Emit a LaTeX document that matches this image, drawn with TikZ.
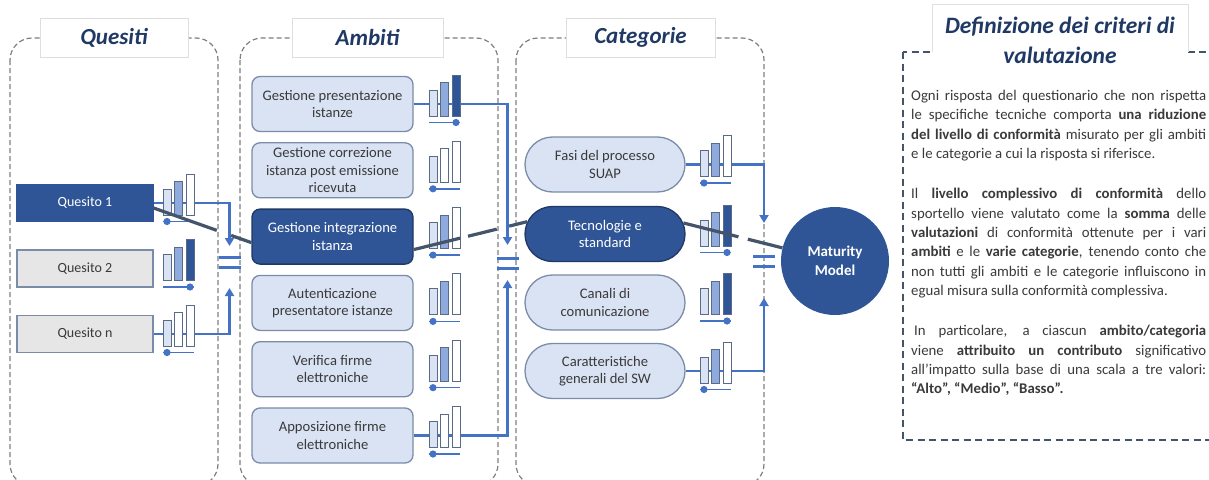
\documentclass[tikz,border=0pt]{standalone}
\usepackage{fontspec}
\setmainfont{Carlito}
\usetikzlibrary{arrows.meta,shapes.misc,calc}
\definecolor{lb}{HTML}{DAE3F3}
\definecolor{mb}{HTML}{8FAADC}
\definecolor{db}{HTML}{2F5597}
\definecolor{navy}{HTML}{1F3864}
\definecolor{linkblue}{HTML}{4472C4}
\definecolor{slate}{HTML}{44546A}
\definecolor{txt}{HTML}{3A3A3A}
\definecolor{qgrey}{HTML}{E7E6E6}
\definecolor{bord}{HTML}{7A8CA8}
\definecolor{panelgrey}{HTML}{7F7F7F}
\definecolor{barborder}{HTML}{5A6B88}
\tikzset{
  panel/.style={draw=panelgrey, line width=1.2pt, dash pattern=on 5pt off 3pt, rounded corners=22pt},
  rpanel/.style={draw=slate, line width=1.5pt, dash pattern=on 7pt off 4.5pt},
  titlebox/.style={draw=black!13, fill=white, line width=0.8pt, minimum height=39pt, inner sep=0, font=\fontsize{23}{27}\selectfont\bfseries\itshape, text=navy},
  qbox/.style={rectangle, minimum width=136pt, minimum height=37pt, draw=bord, line width=1.2pt, fill=qgrey, text=txt, inner sep=0, font=\fontsize{14}{16}\selectfont},
  qdark/.style={qbox, fill=db, draw=db, text=white},
  abox/.style={rectangle, rounded corners=8pt, minimum width=161pt, minimum height=55pt, draw=bord, line width=1.3pt, fill=lb, text=txt, align=center, inner sep=0, font=\fontsize{14.6}{17.5}\selectfont},
  adark/.style={abox, fill=db, draw=navy, text=white},
  cbox/.style={rounded rectangle, minimum width=160pt, minimum height=55pt, draw=bord, line width=1.3pt, fill=lb, text=txt, align=center, inner sep=0, font=\fontsize{14.6}{17.5}\selectfont},
  cdark/.style={cbox, fill=db, draw=navy, text=white},
  link/.style={draw=linkblue, line width=2.4pt},
  linkarrow/.style={link, -{Triangle[width=9pt,length=8pt]}},
  barst/.style={draw=barborder, line width=1pt},
  dotline/.style={draw=linkblue, line width=1.4pt},
  lever/.style={draw=slate, line width=3.2pt},
  eqbar/.style={draw=linkblue, line width=3pt},
}
% #1 x0, #2 y centre, #3 fill bar 2, #4 fill bar 3, #5 dot offset
\newcommand\lvbars[5]{%
  \draw[barst,fill=lb] (#1,#2+12) rectangle ++(8,-26);
  \draw[barst,fill=#3] (#1+11.5,#2+12) rectangle ++(8,-33.5);
  \draw[barst,fill=#4] (#1+23,#2+12) rectangle ++(8,-41);
  \draw[dotline] (#1,#2+18.5) -- ++(31,0);
  \fill[linkblue] (#1+#5,#2+18.5) circle[radius=3.6pt];
}
\begin{document}
\begin{tikzpicture}[x=1pt,y=-1pt]
\useasboundingbox (0,0) rectangle (1209,479);
\clip (0,0) rectangle (1209,479);
\fill[white] (0,0) rectangle (1209,479);

% panels
\draw[panel] (10,38) rectangle (218,486);
\draw[panel] (240,38) rectangle (498,486);
\draw[panel] (516,38) rectangle (764,486);
\draw[rpanel] (903,52) rectangle (1230,440);

% titles
\node[titlebox, minimum width=148pt] (tq) at (114,37.5) {Quesiti};
\node[titlebox, minimum width=151pt] (ta) at (367.5,37.5) {Ambiti};
\node[titlebox, minimum width=149pt] (tc) at (640.5,37.5) {Categorie};
\fill[white] (932,4) rectangle (1188,78);
\draw[black!12, line width=0.8pt] (932,52) -- (932,4) -- (1188,4) -- (1188,52);
\node[align=center, inner sep=0, font=\fontsize{23.5}{30}\selectfont\bfseries\itshape, text=navy] (td) at (1060,40) {Definizione dei criteri di\\valutazione};

% quesiti
\node[qdark] (q1) at (85,203) {Quesito 1};
\node[qbox] (q2) at (85,268.5) {Quesito 2};
\node[qbox] (qn) at (85,334) {Quesito n};

% ambiti
\node[abox] (a1) at (332.5,104) {Gestione presentazione\\istanze};
\node[abox] (a2) at (332.5,170.3) {Gestione correzione\\istanza post emissione\\ricevuta};
\node[adark] (a3) at (332.5,236.6) {Gestione integrazione\\istanza};
\node[abox] (a4) at (332.5,302.9) {Autenticazione\\presentatore istanze};
\node[abox] (a5) at (332.5,369.2) {Verifica firme\\elettroniche};
\node[abox] (a6) at (332.5,435.5) {Apposizione firme\\elettroniche};

% categorie
\node[cbox] (c1) at (605,164.5) {Fasi del processo\\SUAP};
\node[cdark] (c2) at (605,234) {Tecnologie e\\standard};
\node[cbox] (c3) at (605,302.5) {Canali di\\comunicazione};
\node[cbox] (c4) at (605,371) {Caratteristiche\\generali del SW};

% maturity model
\node[circle, fill=db, minimum size=108pt, inner sep=0, text=white, align=center, font=\fontsize{15}{19}\selectfont\bfseries] (mm) at (835,261) {Maturity\\Model};

% junction points
\coordinate (eqq) at (229.5,262);
\coordinate (eqa) at (507.5,263);
\coordinate (eqm) at (764,261);

% blue connectors
\draw[linkarrow] (q1.east) -| ([yshift=16pt]eqq);
\draw[linkarrow] (qn.east) -| ([yshift=-26pt]eqq);
\draw[linkarrow] (a1.east) -| ([yshift=18pt]eqa);
\draw[linkarrow] (a6.east) -| ([yshift=-17pt]eqa);
\draw[linkarrow] (c1.east) -| ([yshift=38pt]eqm);
\draw[linkarrow] (c4.east) -| ([yshift=-37pt]eqm);

% level bars
\lvbars{163}{203}{mb}{white}{4}
\lvbars{163}{268.5}{mb}{db}{27}
\lvbars{163}{334}{white}{white}{4}
\lvbars{429}{104}{mb}{db}{27}
\lvbars{429}{170.3}{white}{white}{4}
\lvbars{429}{236.6}{mb}{white}{4}
\lvbars{429}{302.9}{mb}{white}{4}
\lvbars{429}{369.2}{mb}{white}{4}
\lvbars{429}{435.5}{white}{white}{4}
\lvbars{700}{164.5}{mb}{white}{4}
\lvbars{700}{234}{mb}{db}{27}
\lvbars{700}{302.5}{mb}{db}{27}
\lvbars{700}{371}{mb}{white}{4}

% grey path through the highlighted items
\coordinate (l1a) at ([yshift=-5pt]q1.east);
\coordinate (l1b) at ([yshift=-6pt]a3.west);
\draw[lever] (l1a) -- ($(l1a)!0.646!(l1b)$);
\draw[lever] ($(l1a)!0.793!(l1b)$) -- (l1b);
\coordinate (l2a) at ([yshift=-13pt]a3.east);
\coordinate (l2b) at (c2.171);
\draw[lever] (l2a) -- ($(l2a)!0.409!(l2b)$);
\draw[lever] ($(l2a)!0.479!(l2b)$) -- ($(l2a)!0.732!(l2b)$);
\draw[lever] ($(l2a)!0.841!(l2b)$) -- (l2b);
\coordinate (l3a) at (c2.8);
\coordinate (l3b) at (mm.166);
\draw[lever] (l3a) -- ($(l3a)!0.556!(l3b)$);
\draw[lever] ($(l3a)!0.651!(l3b)$) -- (l3b);

% equals signs
\foreach \e in {eqq,eqa,eqm}{
  \draw[eqbar] ([xshift=-11pt,yshift=5pt]\e) -- ([xshift=11pt,yshift=5pt]\e);
  \draw[eqbar] ([xshift=-11pt,yshift=-5pt]\e) -- ([xshift=11pt,yshift=-5pt]\e);
}

% right text
\node[anchor=north west, text width=295pt, align=justify, inner sep=0, text=txt, font=\fontsize{14.8}{19.4}\selectfont] (rt) at (911,90) {%
Ogni risposta del questionario che non rispetta\linebreak
le specifiche tecniche comporta \textbf{una riduzione}\linebreak
\textbf{del livello di conformità} misurato per gli ambiti\linebreak
e le categorie a cui la risposta si riferisce.\par
\vspace{20.6pt}
Il \textbf{livello complessivo di conformità} dello\linebreak
sportello viene valutato come la \textbf{somma} delle\linebreak
\textbf{valutazioni} di conformità ottenute per i vari\linebreak
\textbf{ambiti} e le \textbf{varie categorie}, tenendo conto che\linebreak
non tutti gli ambiti e le categorie influiscono in\linebreak
egual misura sulla conformità complessiva.\par
\vspace{20.6pt}
\hspace*{3pt}In particolare, a ciascun \textbf{ambito/categoria}\linebreak
viene \textbf{attribuito un contributo} significativo\linebreak
all'impatto sulla base di una scala a tre valori:\linebreak
\textbf{“Alto”, “Medio”, “Basso”.}\par};
\end{tikzpicture}
\end{document}
